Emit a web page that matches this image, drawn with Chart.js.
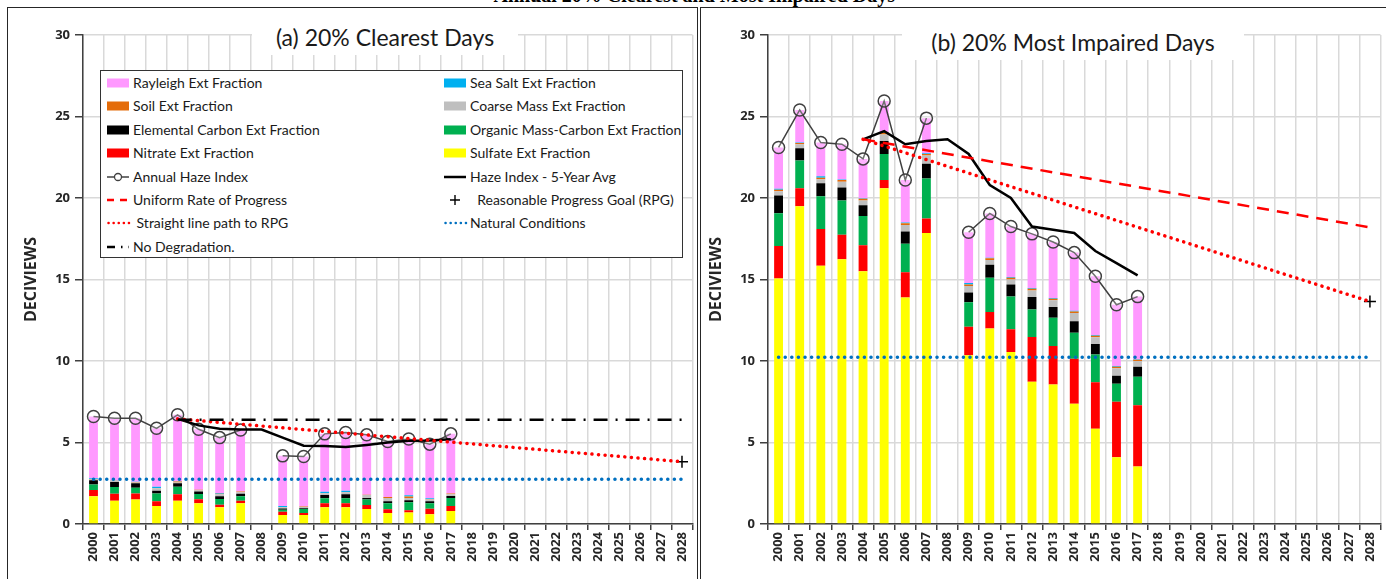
<!DOCTYPE html>
<html>
<head>
<meta charset="utf-8">
<script src="https://cdn.jsdelivr.net/npm/chart.js@4.4.1/dist/chart.umd.min.js"></script>
<style>
  body { margin:0; width:1386px; height:579px; overflow:hidden; background:#fff; position:relative; font-family: Lato, "Open Sans", sans-serif; }
  .panel { position:absolute; border:1.5px solid #262626; box-sizing:border-box; }
  canvas { position:absolute; top:0; }
  .ptitle { position:absolute; background:#fff; text-align:center; color:#1a1a1a; font-size:23px; line-height:36px; }
  #legend { position:absolute; left:100px; top:70px; width:583px; height:188px; border:1px solid #333; background:#fff; box-sizing:border-box; }
  .lrow { position:absolute; height:20px; line-height:20px; font-size:14px; color:#1a1a1a; white-space:nowrap; }
  .lrow svg { position:absolute; left:0; top:4px; }
  .lrow span { position:absolute; left:26px; }
  #maintitle { position:absolute; left:0; width:895px; top:-17px; text-align:right; font:bold 20px "Liberation Serif", serif; line-height:24px; }
</style>
</head>
<body>
<div id="maintitle">Annual 20% Clearest and Most Impaired Days</div>
<div class="panel" style="left:7px;top:7px;width:691px;height:600px"></div>
<div class="panel" style="left:700px;top:7px;width:700px;height:600px"></div>
<canvas id="c1" width="693" height="579" style="left:7px"></canvas>
<canvas id="c2" width="696" height="579" style="left:692px"></canvas>
<div class="ptitle" style="left:252px;top:19px;width:266px">(a) 20% Clearest Days</div>
<div class="ptitle" style="left:902px;top:24px;width:342px">(b) 20% Most Impaired Days</div>
<div id="legend"></div>
<script>
var years = ['2000','2001','2002','2003','2004','2005','2006','2007','2008','2009','2010','2011','2012','2013','2014',
             '2015','2016','2017','2018','2019','2020','2021','2022','2023','2024','2025','2026','2027','2028'];

// (a) 20% clearest days
var clrSulfate  = [1.70,1.42,1.50,1.10,1.43,1.27,1.03,1.27,null,0.55,0.55,1.03,1.03,0.92,0.68,0.70,0.60,0.80];
var clrNitrate  = [0.38,0.43,0.37,0.30,0.40,0.25,0.15,0.15,null,0.20,0.12,0.25,0.25,0.25,0.22,0.15,0.33,0.30];
var clrOrganic  = [0.35,0.42,0.35,0.47,0.45,0.32,0.35,0.28,null,0.12,0.25,0.30,0.30,0.33,0.38,0.48,0.35,0.50];
var clrEC       = [0.25,0.30,0.28,0.17,0.22,0.15,0.17,0.15,null,0.08,0.05,0.20,0.25,0.10,0.12,0.12,0.12,0.12];
var clrCoarse   = [0.05,0.08,0.05,0.15,0.05,0.08,0.12,0.10,null,0.08,0.07,0.10,0.12,0.18,0.20,0.15,0.10,0.10];
var clrSoil     = [0.03,0.02,0.02,0.02,0.05,0.03,0.03,0.05,null,0.02,0.03,0.02,0.02,0.02,0.05,0.08,0.03,0.05];
var clrSeaSalt  = [0.04,0.02,0.02,0.08,0.02,0.00,0.05,0.00,null,0.05,0.00,0.08,0.07,0.00,0.00,0.08,0.05,0.00];
var clrRayleigh = [3.79,3.80,3.90,3.58,4.08,3.71,3.40,3.77,null,3.08,3.07,3.55,3.57,3.67,3.41,3.46,3.32,3.66];
var clrHaze     = [6.59,6.49,6.49,5.87,6.70,5.81,5.30,5.77,null,4.18,4.14,5.53,5.61,5.47,5.06,5.22,4.90,5.53];
var clrAvg5     = [null,null,null,null,6.45,6.05,5.85,5.80,5.80,5.30,4.80,4.78,4.72,4.85,5.00,5.10,5.12,5.20];
var clrUrp      = [];
var clrRpgPath  = [null,null,null,null,6.45,null,null,null,null,null,null,null,null,null,null,null,null,null,null,null,null,null,null,null,null,null,null,null,3.82];
var clrRpg      = [null,null,null,null,null,null,null,null,null,null,null,null,null,null,null,null,null,null,null,null,null,null,null,null,null,null,null,null,3.82];
var clrNatural  = [2.75,null,null,null,null,null,null,null,null,null,null,null,null,null,null,null,null,null,null,null,null,null,null,null,null,null,null,null,2.75];
var clrNoDeg    = [null,null,null,null,6.40,null,null,null,null,null,null,null,null,null,null,null,null,null,null,null,null,null,null,null,null,null,null,null,6.40];

// (b) 20% most impaired days
var impSulfate  = [15.06,19.50,15.85,16.25,15.50,20.60,13.90,17.85,null,10.35,12.00,10.55,8.72,8.56,7.38,5.85,4.10,3.52];
var impNitrate  = [2.00,1.10,2.25,1.50,1.60,0.50,1.55,0.90,null,1.75,1.00,1.40,2.76,2.36,2.76,2.85,3.40,3.76];
var impOrganic  = [2.00,1.70,2.00,2.10,1.80,1.60,1.75,2.45,null,1.50,2.10,2.00,1.68,1.74,1.60,1.70,1.10,1.75];
var impEC       = [1.10,0.75,0.80,0.80,0.65,0.80,0.75,0.90,null,0.60,0.80,0.75,0.77,0.66,0.70,0.65,0.50,0.62];
var impCoarse   = [0.25,0.25,0.25,0.35,0.30,0.40,0.40,0.50,null,0.40,0.30,0.30,0.40,0.40,0.50,0.40,0.45,0.35];
var impSoil     = [0.10,0.08,0.10,0.10,0.10,0.10,0.10,0.10,null,0.10,0.10,0.10,0.10,0.10,0.10,0.10,0.10,0.08];
var impSeaSalt  = [0.05,0.02,0.08,0.03,0.03,0.03,0.05,0.05,null,0.08,0.03,0.05,0.05,0.05,0.05,0.05,0.05,0.02];
var impRayleigh = [2.54,2.00,2.07,2.17,2.42,1.92,2.60,2.15,null,3.12,2.72,3.10,3.32,3.43,3.56,3.60,3.75,3.85];
var impHaze     = [23.10,25.40,23.40,23.30,22.40,25.95,21.10,24.90,null,17.90,19.05,18.25,17.80,17.30,16.65,15.20,13.45,13.95];
var impAvg5     = [null,null,null,null,23.60,24.10,23.30,23.50,23.60,22.70,20.80,20.00,18.25,18.05,17.85,16.75,16.00,15.25];
var impUrp      = [null,null,null,null,23.60,null,null,null,null,null,null,null,null,null,null,null,null,null,null,null,null,null,null,null,null,null,null,null,18.20];
var impRpgPath  = [null,null,null,null,23.60,null,null,null,null,null,null,null,null,null,null,null,null,null,null,null,null,null,null,null,null,null,null,null,13.65];
var impRpg      = [null,null,null,null,null,null,null,null,null,null,null,null,null,null,null,null,null,null,null,null,null,null,null,null,null,null,null,null,13.65];
var impNatural  = [10.23,null,null,null,null,null,null,null,null,null,null,null,null,null,null,null,null,null,null,null,null,null,null,null,null,null,null,null,10.23];
var impNoDeg    = [];

var FONT = 'Lato, "Open Sans", sans-serif';
var TICKFONT = '"Open Sans", "DejaVu Sans", sans-serif';
var PINK = '#FF99FF', SEA = '#00B0F0', SOIL = '#E46C0A', COARSE = '#BFBFBF',
    EC = '#000000', ORG = '#00B050', NIT = '#FF0000', SULF = '#FFFF00', NATB = '#0070C0';

function bar(label, data, color){
    return {type:'bar', label:label, data:data, backgroundColor:color, borderWidth:0,
            barPercentage:0.42, categoryPercentage:1.0, order:5};
}
function line(label, data, opts){
    var ds = {type:'line', label:label, data:data, stack:label, order:1, fill:false,
              pointRadius:0, borderWidth:2.5, borderColor:'#000', spanGaps:true, tension:0};
    for (var k in opts) ds[k] = opts[k];
    return ds;
}
function makeDatasets(p){
    return [
        bar('Sulfate Ext Fraction', p.sulfate, SULF),
        bar('Nitrate Ext Fraction', p.nitrate, NIT),
        bar('Organic Mass-Carbon Ext Fraction', p.organic, ORG),
        bar('Elemental Carbon Ext Fraction', p.ec, EC),
        bar('Coarse Mass Ext Fraction', p.coarse, COARSE),
        bar('Soil Ext Fraction', p.soil, SOIL),
        bar('Sea Salt Ext Fraction', p.seasalt, SEA),
        bar('Rayleigh Ext Fraction', p.rayleigh, PINK),
        line('Natural Conditions', p.natural, {borderColor:NATB, borderWidth:3.5, borderDash:[0.1,6.5], borderCapStyle:'round'}),
        line('No Degradation.', p.nodeg, {borderColor:'#000', borderWidth:2.5, borderDash:[14,8,2,8]}),
        line('Uniform Rate of Progress', p.urp, {borderColor:'#FF0000', borderWidth:2.5, borderDash:[12,8]}),
        line('Straight line path to RPG', p.rpgpath, {borderColor:'#FF0000', borderWidth:3.5, borderDash:[0.1,6.5], borderCapStyle:'round'}),
        line('Haze Index - 5-Year Avg', p.avg5, {borderColor:'#000', borderWidth:2.5}),
        line('Annual Haze Index', p.haze, {borderColor:'#404040', borderWidth:1.5, spanGaps:false,
              pointRadius:6, pointBorderWidth:1.5, pointBorderColor:'#404040', pointBackgroundColor:'rgba(255,255,255,0.25)'}),
        line('Reasonable Progress Goal (RPG)', p.rpg, {showLine:false, pointStyle:'cross', pointRadius:6,
              pointBorderWidth:1.5, pointBorderColor:'#000'})
    ];
}

function makeChart(id, p){
    var tickFont = {family:TICKFONT, size:13, weight:'bold'};
    return new Chart(document.getElementById(id).getContext('2d'), {
        type:'bar',
        data:{labels:years, datasets:makeDatasets(p)},
        options:{
            responsive:false, animation:false,
            layout:{padding:{top:35, right:0, bottom:0, left:0}},
            plugins:{legend:{display:false}, tooltip:{enabled:false}},
            scales:{
                x:{stacked:true,
                   grid:{color:'#d9d9d9', lineWidth:1.5, tickLength:6, tickColor:'#404040'},
                   border:{color:'#404040', width:1.5},
                   ticks:{autoSkip:false, minRotation:90, maxRotation:90, padding:2, color:'#262626', font:tickFont},
                   afterFit:function(s){ s.height = 55; }},
                y:{stacked:true, min:0, max:30,
                   grid:{color:'#d9d9d9', lineWidth:1.5, tickLength:8, tickColor:'#404040'},
                   border:{color:'#404040', width:1.5},
                   ticks:{stepSize:5, padding:5, color:'#262626', font:tickFont},
                   title:{display:true, text:'DECIVIEWS', color:'#262626', padding:{top:15, bottom:0},
                          font:{family:TICKFONT, size:16, weight:'bold'}},
                   afterFit:function(s){ s.width = 76; }}
            }
        }
    });
}

makeChart('c1', {sulfate:clrSulfate, nitrate:clrNitrate, organic:clrOrganic, ec:clrEC, coarse:clrCoarse,
                 soil:clrSoil, seasalt:clrSeaSalt, rayleigh:clrRayleigh, haze:clrHaze, avg5:clrAvg5,
                 urp:clrUrp, rpgpath:clrRpgPath, rpg:clrRpg, natural:clrNatural, nodeg:clrNoDeg});
makeChart('c2', {sulfate:impSulfate, nitrate:impNitrate, organic:impOrganic, ec:impEC, coarse:impCoarse,
                 soil:impSoil, seasalt:impSeaSalt, rayleigh:impRayleigh, haze:impHaze, avg5:impAvg5,
                 urp:impUrp, rpgpath:impRpgPath, rpg:impRpg, natural:impNatural, nodeg:impNoDeg});

// legend box (two columns, drawn as html)
function swatch(kind, color){
    var s = '<svg width="24" height="12">';
    if (kind == 'box') s += '<rect x="0" y="1.5" width="22" height="9" fill="' + color + '"/>';
    else if (kind == 'haze') s += '<line x1="0" y1="6" x2="22" y2="6" stroke="#404040" stroke-width="1.5"/><circle cx="11" cy="6" r="3.5" fill="#fff" stroke="#404040" stroke-width="1.3"/>';
    else if (kind == 'solid') s += '<line x1="0" y1="6" x2="22" y2="6" stroke="#000" stroke-width="2.5"/>';
    else if (kind == 'dash') s += '<line x1="0" y1="6" x2="22" y2="6" stroke="#FF0000" stroke-width="2.5" stroke-dasharray="7 6"/>';
    else if (kind == 'dot') s += '<line x1="1.5" y1="6" x2="22" y2="6" stroke="' + color + '" stroke-width="2.5" stroke-linecap="round" stroke-dasharray="0.1 5"/>';
    else if (kind == 'dashdot') s += '<line x1="0" y1="6" x2="22" y2="6" stroke="#000" stroke-width="2.5" stroke-dasharray="8 6 1.5 6"/>';
    else if (kind == 'plus') s += '<path d="M11 1 V11 M6 6 H16" stroke="#000" stroke-width="1.4"/>';
    return s + '</svg>';
}
var legendCols = [
    [['Rayleigh Ext Fraction','box',PINK], ['Soil Ext Fraction','box',SOIL], ['Elemental Carbon Ext Fraction','box',EC],
     ['Nitrate Ext Fraction','box',NIT], ['Annual Haze Index','haze'], ['Uniform Rate of Progress','dash'],
     [' Straight line path to RPG','dot','#FF0000'], ['No Degradation.','dashdot']],
    [['Sea Salt Ext Fraction','box',SEA], ['Coarse Mass Ext Fraction','box',COARSE], ['Organic Mass-Carbon Ext Fraction','box',ORG],
     ['Sulfate Ext Fraction','box',SULF], ['Haze Index - 5-Year Avg','solid'], ['  Reasonable Progress Goal (RPG)','plus'],
     ['Natural Conditions','dot',NATB]]
];
var lg = document.getElementById('legend');
var html = '';
for (var c = 0; c < legendCols.length; c++){
    for (var r = 0; r < legendCols[c].length; r++){
        var it = legendCols[c][r];
        html += '<div class="lrow" style="left:' + (c == 0 ? 6 : 343) + 'px;top:' + (2 + r*23.4) + 'px">' +
                swatch(it[1], it[2]) + '<span style="white-space:pre">' + it[0] + '</span></div>';
    }
}
lg.innerHTML = html;
</script>
</body>
</html>
